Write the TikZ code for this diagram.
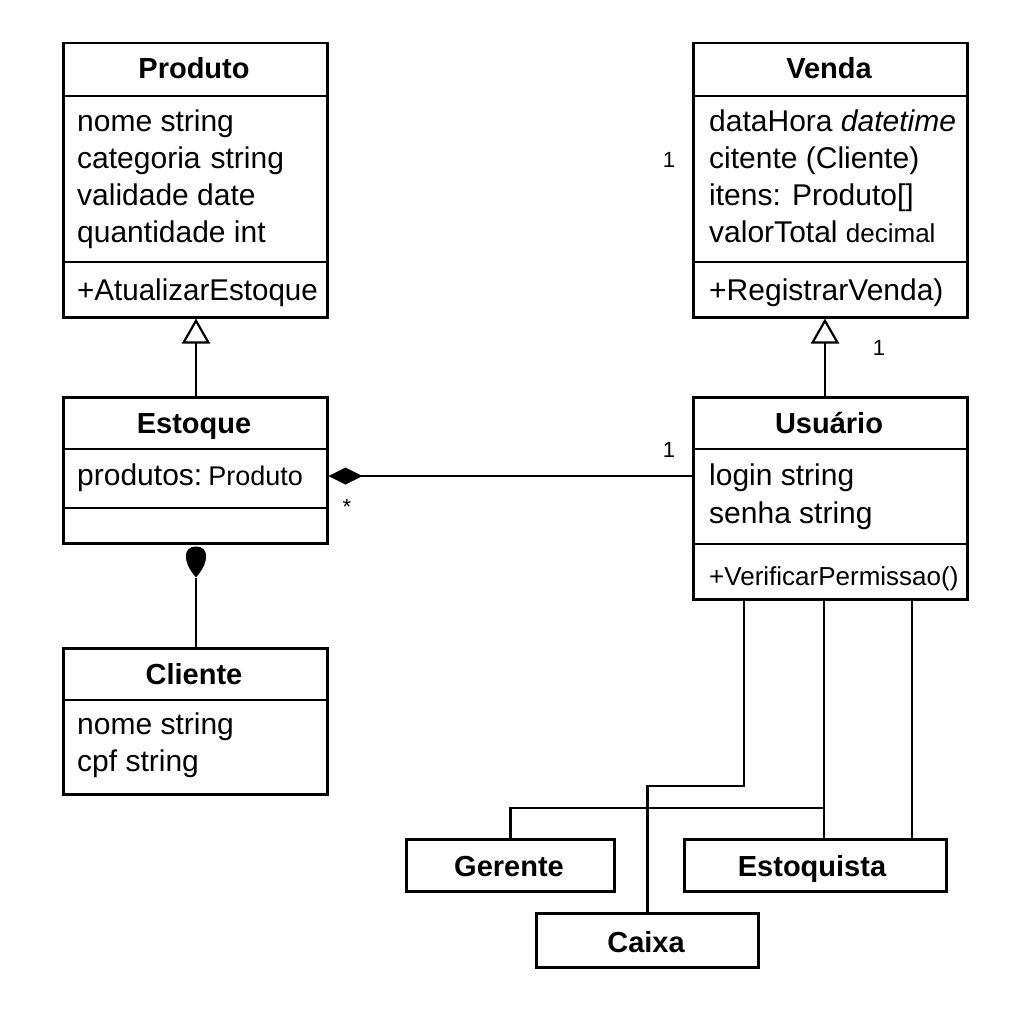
\documentclass[tikz,border=0pt]{standalone}
\usepackage{fontspec}
\setmainfont{Liberation Sans}
\usetikzlibrary{arrows.meta,calc}
\begin{document}
\begin{tikzpicture}[x=1pt,y=-1pt,
  umlbox/.style={draw,line width=2.5pt,rectangle,inner sep=0pt,anchor=north west},
  sep/.style={line width=2.5pt},
  conn/.style={line width=2.5pt},
  ttl/.style={anchor=base,inner sep=0pt,font=\fontsize{29}{34}\selectfont\bfseries},
  attr/.style={anchor=base west,inner sep=0pt,font=\fontsize{30}{37}\selectfont},
  mult/.style={inner sep=0pt,font=\fontsize{22}{26}\selectfont},
  gen/.style={-{Triangle[open,length=25pt,width=28pt,line width=2.2pt]}}
]
\useasboundingbox (0,0) rectangle (1024,1024);
\fill[white] (0,0) rectangle (1024,1024);

% Produto
\node[umlbox,minimum width=264pt,minimum height=274pt] (produto) at (62,42) {};
\draw[sep] (62,96) -- (326,96);
\draw[sep] (62,262) -- (326,262);
\node[ttl] (produtoT) at (194,79) {Produto};
\node[attr] (p1) at (77,132) {nome string};
\node[attr] (p2) at (77,169) {categoria\hspace{10pt}string};
\node[attr] (p3) at (77,206) {validade date};
\node[attr] (p4) at (77,243) {quantidade int};
\node[attr] (p5) at (77,300) {\scalebox{0.985}[1]{+AtualizarEstoque}};

% Venda
\node[umlbox,minimum width=274pt,minimum height=274pt] (venda) at (692,42) {};
\draw[sep] (692,96) -- (966,96);
\draw[sep] (692,262) -- (966,262);
\node[ttl] (vendaT) at (829,79) {Venda};
\node[attr] (v1) at (709,132) {dataHora \textit{datetime}};
\node[attr] (v2) at (709,169) {citente (Cliente)};
\node[attr] (v3) at (709,206) {itens: Produto[]};
\node[attr] (v4) at (709,243) {valorTotal {\fontsize{26}{30}\selectfont decimal}};
\node[attr] (v5) at (709,300) {+RegistrarVenda)};

% Estoque
\node[umlbox,minimum width=264pt,minimum height=146pt] (estoque) at (62,396) {};
\draw[sep] (62,449) -- (326,449);
\draw[sep] (62,508) -- (326,508);
\node[ttl] (estoqueT) at (194,433) {Estoque};
\node[attr] (e1) at (77,485) {produtos:\hspace{6pt}{\fontsize{27}{30}\selectfont Produto}};

% Usuario
\node[umlbox,minimum width=274pt,minimum height=202pt] (usuario) at (692,396) {};
\draw[sep] (692,449) -- (966,449);
\draw[sep] (692,544) -- (966,544);
\node[ttl] (usuarioT) at (829,433) {Usuário};
\node[attr] (u1) at (709,485) {login string};
\node[attr] (u2) at (709,523) {senha string};
\node[attr,font=\fontsize{26}{30}\selectfont] (u3) at (709,585) {+VerificarPermissao()};

% Cliente
\node[umlbox,minimum width=264pt,minimum height=146pt] (cliente) at (62,647) {};
\draw[sep] (62,700) -- (326,700);
\node[ttl] (clienteT) at (194,684) {Cliente};
\node[attr] (c1) at (77,734) {nome string};
\node[attr] (c2) at (77,771) {cpf string};

% Subclasses
\node[umlbox,minimum width=208pt,minimum height=52pt] (gerente) at (405,838) {};
\node[ttl] (gerenteT) at (509,876) {Gerente};
\node[umlbox,minimum width=262pt,minimum height=52pt] (estoquista) at (683,838) {};
\node[ttl] (estoquistaT) at (812,876) {Estoquista};
\node[umlbox,minimum width=222pt,minimum height=54pt] (caixa) at (535,912) {};
\node[ttl] (caixaT) at (646,952) {Caixa};

% Generalizations
\draw[conn,gen] ($(estoque.north west)+(134,0)$) -- ($(produto.south west)+(134,0)$);
\draw[conn,gen] ($(usuario.north west)+(133,0)$) -- ($(venda.south west)+(133,0)$);

% Composition Usuario -> Estoque
\coordinate (compU) at ($(usuario.north west)+(0,80)$);
\coordinate (compE) at ($(estoque.north east)+(0,80)$);
\draw[conn,-{Diamond[length=34pt,width=17pt]}] (compU) -- (compE);

% Cliente -> Estoque (filled teardrop)
\coordinate (tearTop) at ($(estoque.south west)+(134,2)$);
\coordinate (tearBot) at ($(estoque.south west)+(134,33)$);
\draw[conn] ($(cliente.north west)+(134,0)$) -- (tearBot);
\fill (tearBot) .. controls ($(tearBot)+(-14,-16)$) and ($(tearTop)+(-13,0)$) .. (tearTop)
      .. controls ($(tearTop)+(13,0)$) and ($(tearBot)+(14,-16)$) .. (tearBot) -- cycle;

% Usuario -> subclasses
\draw[conn] ($(usuario.south west)+(52,0)$) |- ($(caixa.north)+(0,-126)$) -- (caixa.north);
\draw[conn] ($(usuario.south west)+(132,0)$) -- ($(estoquista.north west)+(141,0)$);
\draw[conn] ($(estoquista.north west)+(141,-30)$) -| (gerente.north);
\draw[conn] ($(usuario.south west)+(220,0)$) -- ($(estoquista.north west)+(229,0)$);

% Multiplicities
\node[mult] (m1) at (669,160) {1};
\node[mult] (m2) at (879,348) {1};
\node[mult] (m3) at (669,450) {1};
\node[mult] (m4) at (347,507) {*};
\end{tikzpicture}
\end{document}
